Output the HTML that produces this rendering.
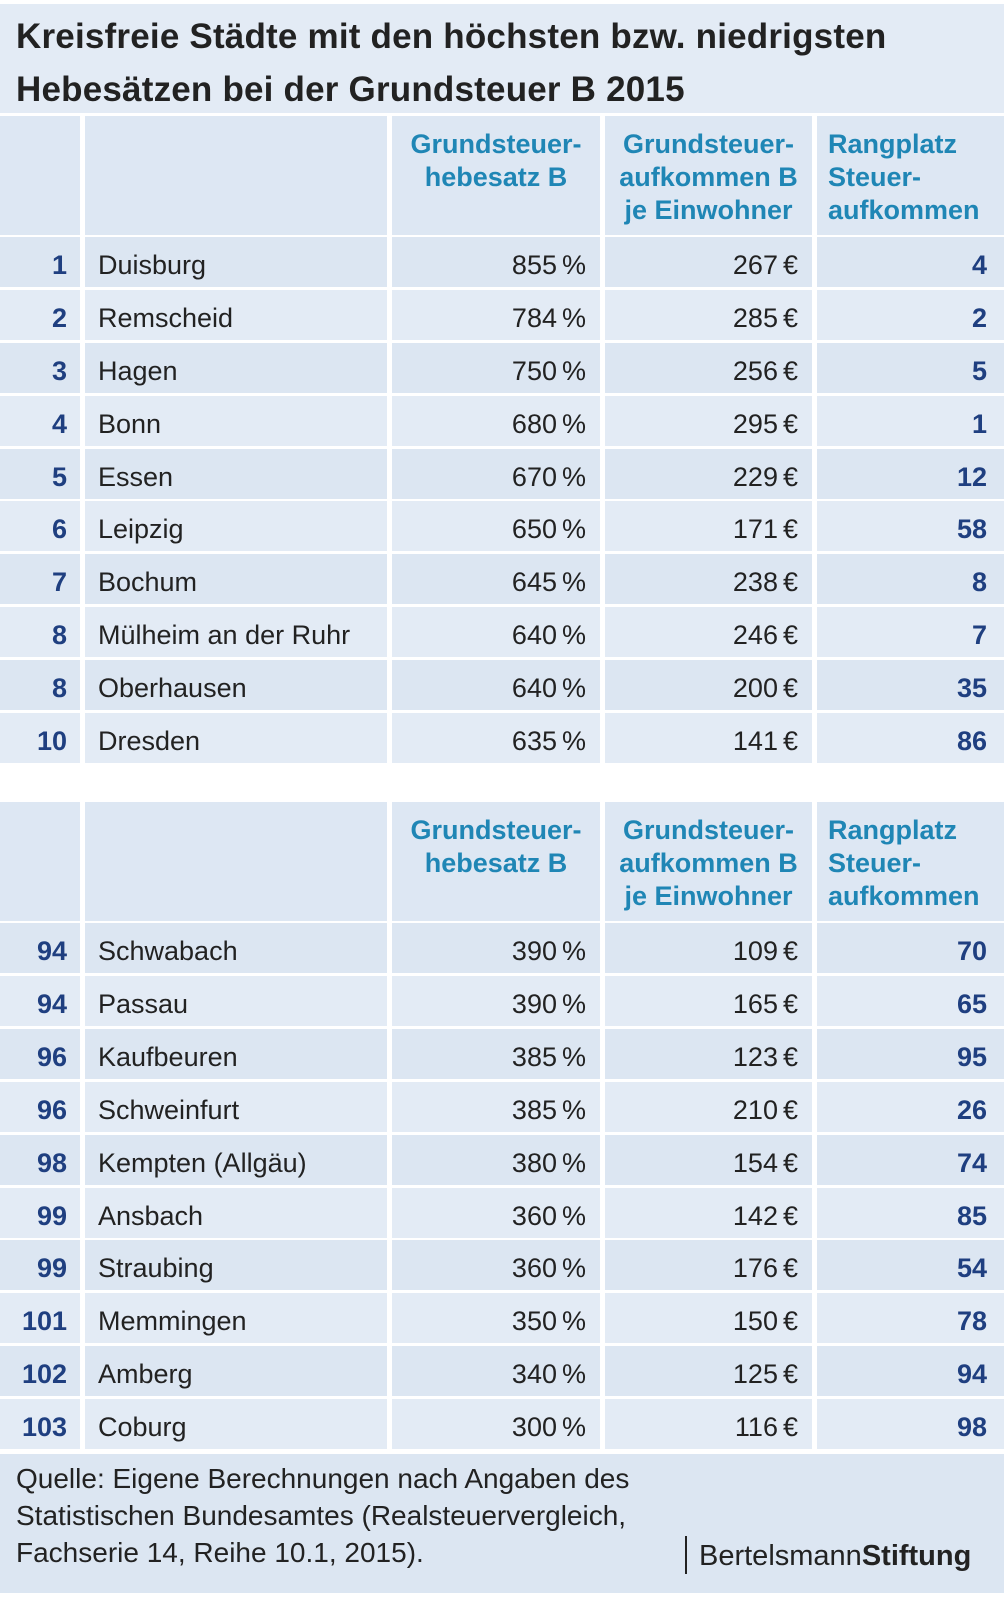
<!DOCTYPE html>
<html><head><meta charset="utf-8">
<style>
*{margin:0;padding:0;box-sizing:border-box}
body{width:1004px;height:1603px;background:#fff;position:relative;font-family:"Liberation Sans",sans-serif;color:#222;overflow:hidden}
.bg{position:absolute;left:0;top:4px;width:1004px;height:109px;background:#e3ebf5}
.t{position:absolute;left:16px;font-size:35px;font-weight:bold;color:#222;white-space:nowrap;letter-spacing:0.2px}
.c{position:absolute;font-size:27px;white-space:nowrap;line-height:52px}
.cell{position:absolute}
.r{text-align:right}
.rk{color:#1f3f80;font-weight:bold}
.h{position:absolute;color:#1f86b5;font-weight:bold;font-size:27px;line-height:33px;white-space:nowrap}
.foot{position:absolute;left:16px;top:1460px;font-size:28px;line-height:37px;color:#222;white-space:nowrap}
.sp{display:inline-block;width:5px}
</style></head><body>
<div class="bg"></div>
<div class="t" style="top:17px">Kreisfreie Städte mit den höchsten bzw. niedrigsten</div>
<div class="t" style="top:70px">Hebesätzen bei der Grundsteuer B 2015</div>
<div id="tables"></div>
<div class="foot">Quelle: Eigene Berechnungen nach Angaben des<br>Statistischen Bundesamtes (Realsteuervergleich,<br>Fachserie 14, Reihe 10.1, 2015).</div>
<div style="position:absolute;left:685px;top:1536px;width:2px;height:38px;background:#222"></div>
<div style="position:absolute;left:699px;top:1537px;font-size:29px;line-height:38px;white-space:nowrap">Bertelsmann<b>Stiftung</b></div>
<script>
const cols=[[0,80],[85,387],[392,600],[605,812],[817,1004]];
function table(top,rows){
  let h='';
  const hh=119;
  cols.forEach(c=>{h+=`<div class="cell" style="left:${c[0]}px;top:${top}px;width:${c[1]-c[0]}px;height:${hh}px;background:#dde7f3"></div>`});
  h+=`<div class="h" style="left:392px;width:208px;top:${top+12}px;text-align:center">Grundsteuer-<br>hebesatz B</div>`;
  h+=`<div class="h" style="left:605px;width:207px;top:${top+12}px;text-align:center">Grundsteuer-<br>aufkommen B<br>je Einwohner</div>`;
  h+=`<div class="h" style="left:828px;top:${top+12}px">Rangplatz<br>Steuer-<br>aufkommen</div>`;
  let y=top+hh+2;
  rows.forEach((r,i)=>{
    const bg=i%2==0?'#dce6f2':'#e3ebf5';
    const yy=Math.round(y);
    cols.forEach(c=>{h+=`<div class="cell" style="left:${c[0]}px;top:${yy}px;width:${c[1]-c[0]}px;height:50px;background:${bg}"></div>`});
    const ty=yy+2;
    h+=`<div class="c r rk" style="left:0;width:67px;top:${ty}px">${r[0]}</div>`;
    h+=`<div class="c" style="left:98px;top:${ty}px">${r[1]}</div>`;
    h+=`<div class="c r" style="left:392px;width:194px;top:${ty}px">${r[2]}<span class="sp"></span>%</div>`;
    h+=`<div class="c r" style="left:605px;width:193px;top:${ty}px">${r[3]}<span class="sp"></span>€</div>`;
    h+=`<div class="c r rk" style="left:817px;width:170px;top:${ty}px">${r[4]}</div>`;
    y+=52.9;
  });
  return h;
}
const t1=[[1,'Duisburg',855,267,4],[2,'Remscheid',784,285,2],[3,'Hagen',750,256,5],[4,'Bonn',680,295,1],[5,'Essen',670,229,12],[6,'Leipzig',650,171,58],[7,'Bochum',645,238,8],[8,'Mülheim an der Ruhr',640,246,7],[8,'Oberhausen',640,200,35],[10,'Dresden',635,141,86]];
const t2=[[94,'Schwabach',390,109,70],[94,'Passau',390,165,65],[96,'Kaufbeuren',385,123,95],[96,'Schweinfurt',385,210,26],[98,'Kempten (Allgäu)',380,154,74],[99,'Ansbach',360,142,85],[99,'Straubing',360,176,54],[101,'Memmingen',350,150,78],[102,'Amberg',340,125,94],[103,'Coburg',300,116,98]];
let html=table(116,t1);
html+=table(802,t2);
html+=`<div class="cell" style="left:0;top:1454px;width:1004px;height:139px;background:#dce6f2"></div>`;
document.getElementById('tables').innerHTML=html;
</script>
</body></html>
